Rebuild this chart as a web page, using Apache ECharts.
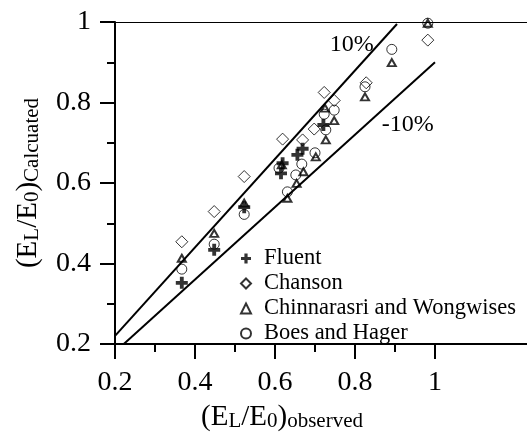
<!DOCTYPE html>
<html>
<head>
<meta charset="utf-8">
<script src="https://cdn.jsdelivr.net/npm/echarts@6/dist/echarts.min.js"></script>
<style>
html,body{margin:0;padding:0;background:#fff;}
#chart{width:527px;height:439px;}
</style>
</head>
<body>
<div id="chart"></div>
<script>
// ---- data ----
const fluentX = [0.367, 0.448, 0.523, 0.615, 0.619, 0.656, 0.669, 0.721];
const fluentY = [0.352, 0.434, 0.540, 0.624, 0.649, 0.670, 0.685, 0.744];

const chansonX = [0.367, 0.448, 0.523, 0.619, 0.669, 0.698, 0.723, 0.748, 0.828, 0.982];
const chansonY = [0.454, 0.529, 0.616, 0.709, 0.707, 0.734, 0.825, 0.805, 0.849, 0.955];

const chinnX = [0.367, 0.448, 0.523, 0.617, 0.631, 0.654, 0.671, 0.702, 0.727, 0.725, 0.748, 0.825, 0.892, 0.982];
const chinnY = [0.413, 0.475, 0.550, 0.645, 0.562, 0.599, 0.628, 0.665, 0.707, 0.786, 0.755, 0.814, 0.899, 0.997];

const boesX = [0.367, 0.448, 0.523, 0.610, 0.631, 0.652, 0.667, 0.700, 0.723, 0.727, 0.748, 0.825, 0.892, 0.982];
const boesY = [0.386, 0.448, 0.522, 0.637, 0.578, 0.620, 0.647, 0.675, 0.771, 0.732, 0.781, 0.839, 0.932, 0.997];

// +10% and -10% reference lines (end points)
const plusTenX = [0.2, 0.905];
const plusTenY = [0.22, 0.995];
const minusTenX = [0.222, 1.0];
const minusTenY = [0.2, 0.9];

const seriesNames = ['Fluent', 'Chanson', 'Chinnarasri and Wongwises', 'Boes and Hager'];
const xMajorTicks = [0.2, 0.4, 0.6, 0.8, 1];
const xMinorTicks = [0.3, 0.5, 0.7, 0.9];

// ---- build ----
const zip = (xs, ys) => xs.map((x, i) => [x, ys[i]]);
const FONT = "'Liberation Serif','Times New Roman',serif";
const PLUS = 'path://M3.4,0H6.6V3.4H10V6.6H6.6V10H3.4V6.6H0V3.4H3.4Z';
const XMIN = 0.2, XMAX = 1.23;

const chart = echarts.init(document.getElementById('chart'), null, {renderer: 'canvas'});

const hollow = {color: 'rgba(0,0,0,0)', borderColor: '#000', borderWidth: 1};
const titleRich = {
  m: {fontFamily: FONT, fontSize: 29, lineHeight: 30, color: '#000'},
  s: {fontFamily: FONT, fontSize: 21, lineHeight: 10, verticalAlign: 'bottom', color: '#000'}
};

const option = {
  animation: false,
  backgroundColor: '#fff',
  grid: {left: 115, top: 22, right: 0, bottom: 95, containLabel: false},
  legend: {
    orient: 'vertical',
    left: 235, top: 242,
    itemWidth: 10, itemHeight: 10, itemGap: 2,
    textStyle: {fontFamily: FONT, fontSize: 22.5, color: '#000', lineHeight: 22, padding: [0, 0, 0, 8]},
    data: seriesNames
  },
  xAxis: [
    {
      type: 'value', min: XMIN, max: XMAX, position: 'bottom',
      axisLine: {show: true, onZero: false, lineStyle: {color: '#000', width: 2}},
      axisTick: {show: true, customValues: xMajorTicks, length: 15, lineStyle: {color: '#000', width: 2}},
      axisLabel: {show: true, customValues: xMajorTicks, margin: 25, fontFamily: FONT, fontSize: 28, color: '#000'},
      splitLine: {show: false},
      name: '{m|(E}{s|L}{m|/E}{s|0}{m|)}{s|observed}',
      nameLocation: 'middle', nameGap: 58,
      nameTextStyle: {color: '#000', fontFamily: FONT, padding: [0, 78, 0, 0], rich: titleRich}
    },
    {
      type: 'value', min: XMIN, max: XMAX, position: 'bottom',
      axisLine: {show: false},
      axisTick: {show: true, customValues: xMinorTicks, length: 8, lineStyle: {color: '#000', width: 2}},
      axisLabel: {show: false},
      splitLine: {show: false}
    },
    {
      type: 'value', min: XMIN, max: XMAX, position: 'top',
      axisLine: {show: true, onZero: false, lineStyle: {color: '#000', width: 1}},
      axisTick: {show: false}, axisLabel: {show: false}, splitLine: {show: false}
    }
  ],
  yAxis: {
    type: 'value', min: 0.2, max: 1, interval: 0.2,
    axisLine: {show: true, onZero: false, lineStyle: {color: '#000', width: 2}},
    axisTick: {show: true, length: 15, lineStyle: {color: '#000', width: 2}},
    minorTick: {show: true, splitNumber: 2, length: 8, lineStyle: {color: '#000', width: 2}},
    axisLabel: {margin: 24, fontFamily: FONT, fontSize: 28, color: '#000'},
    splitLine: {show: false},
    name: '{m|(E}{s|L}{m|/E}{s|0}{m|)}{s|Calcuated}',
    nameLocation: 'middle', nameGap: 72, nameRotate: 90,
    nameTextStyle: {color: '#000', fontFamily: FONT, rich: titleRich}
  },
  series: [
    {
      type: 'line', xAxisIndex: 0, data: zip(plusTenX, plusTenY), symbol: 'none', silent: true,
      lineStyle: {color: '#000', width: 2}, z: 1,
      markPoint: {
        symbol: 'circle', symbolSize: 0,
        label: {show: true, position: 'inside', fontFamily: FONT, fontSize: 24, color: '#000', formatter: '10%'},
        data: [{coord: [0.792, 0.943], value: '10%'}]
      }
    },
    {
      type: 'line', xAxisIndex: 0, data: zip(minusTenX, minusTenY), symbol: 'none', silent: true,
      lineStyle: {color: '#000', width: 2}, z: 1,
      markPoint: {
        symbol: 'circle', symbolSize: 0,
        label: {show: true, position: 'inside', fontFamily: FONT, fontSize: 24, color: '#000', formatter: '-10%'},
        data: [{coord: [0.932, 0.744], value: '-10%'}]
      }
    },
    {
      name: seriesNames[0], type: 'scatter', data: zip(fluentX, fluentY),
      symbol: PLUS, symbolSize: 12, itemStyle: {color: '#000'}, z: 5
    },
    {
      name: seriesNames[1], type: 'scatter', data: zip(chansonX, chansonY),
      symbol: 'diamond', symbolSize: 12, itemStyle: hollow, z: 4
    },
    {
      name: seriesNames[2], type: 'scatter', data: zip(chinnX, chinnY),
      symbol: 'triangle', symbolSize: [8, 7], itemStyle: {color: 'rgba(0,0,0,0)', borderColor: '#000', borderWidth: 2}, z: 4
    },
    {
      name: seriesNames[3], type: 'scatter', data: zip(boesX, boesY),
      symbol: 'circle', symbolSize: 10, itemStyle: hollow, z: 4
    }
  ]
};
chart.setOption(option);
</script>
</body>
</html>
